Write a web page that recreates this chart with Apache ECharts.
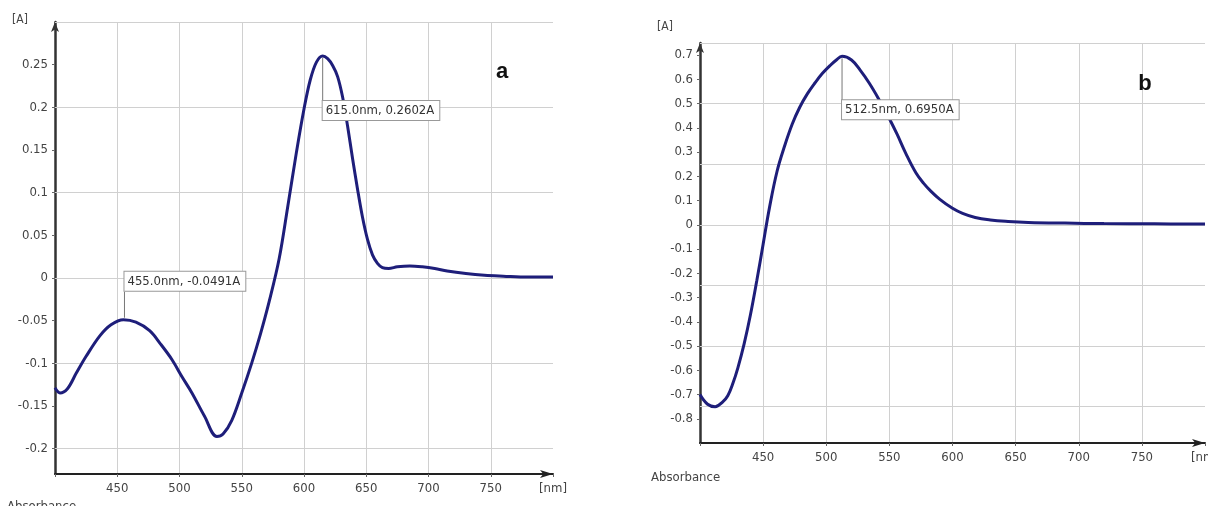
<!DOCTYPE html>
<html>
<head>
<meta charset="utf-8">
<script src="https://cdn.jsdelivr.net/npm/echarts@6/dist/echarts.min.js"></script>
<style>
html,body{margin:0;padding:0;background:#fff;}
#c{width:1208px;height:506px;}
</style>
</head>
<body>
<div id="c"></div>
<script>
// ---- Data ----
var wavelengthA = [400,404,410,417,425,436,445,455,465,476,485,494,502,510,520,530,535,542,550,558,565,572,580,587,594,600,605,610,615,619,623,627,631,635,639,643,647,651,655,659,663,668,675,685,695,705,715,730,745,760,780,800];
var absorbA = [-0.129,-0.135,-0.130,-0.112,-0.092,-0.068,-0.055,-0.0491,-0.052,-0.062,-0.078,-0.096,-0.116,-0.135,-0.162,-0.186,-0.183,-0.167,-0.135,-0.100,-0.066,-0.028,0.022,0.084,0.148,0.198,0.232,0.253,0.2602,0.257,0.249,0.236,0.212,0.178,0.140,0.104,0.071,0.045,0.027,0.017,0.012,0.011,0.013,0.014,0.013,0.011,0.008,0.005,0.003,0.002,0.001,0.001];

var wavelengthB = [400,406,412,418,422,426,430,435,440,445,450,455,461,467,473,479,485,491,497,503,508,512.5,520,527,534,542,549,556,563,571,577,583,590,600,608,618,630,644,660,689,720,760,800];
var absorbB = [-0.70,-0.74,-0.75,-0.73,-0.705,-0.655,-0.59,-0.49,-0.37,-0.23,-0.08,0.07,0.22,0.325,0.415,0.485,0.540,0.585,0.625,0.657,0.680,0.695,0.680,0.637,0.585,0.515,0.448,0.375,0.295,0.215,0.172,0.138,0.105,0.068,0.047,0.030,0.020,0.014,0.010,0.007,0.005,0.004,0.003];

var peaksA = [[455.0, -0.0491], [615.0, 0.2602]];
var peaksB = [[512.5, 0.6950]];

var yLabelsA = [-0.2,-0.15,-0.1,-0.05,0,0.05,0.1,0.15,0.2,0.25];
var yGridA = [-0.2,-0.1,0,0.1,0.2,0.3];
var yLabelsB = [-0.8,-0.7,-0.6,-0.5,-0.4,-0.3,-0.2,-0.1,0,0.1,0.2,0.3,0.4,0.5,0.6,0.7];
var yGridB = [-0.75,-0.5,-0.25,0,0.25,0.5,0.75];

var xUnit = '[nm]';
var yUnit = '[A]';

// ---- Chart ----
var FONT = '"Liberation Sans Narrow","DejaVu Sans Condensed","Liberation Sans",sans-serif';
var LINE = '#1e1e7a';

function pairs(xs, ys){ return xs.map(function(x,i){return [x, ys[i]];}); }

function xAxisCfg(gi){
  return {
    type:'value', gridIndex:gi, min:400, max:800, interval:50,
    axisLine:{show:true, onZero:false, lineStyle:{color:'#222', width:2}, symbol:['none','arrow'], symbolSize:[6,13]},
    axisTick:{show:true, length:3, lineStyle:{color:'#666'}},
    axisLabel:{color:'#444', fontFamily:FONT, fontSize:13, margin:8,
      formatter:function(v){ if(v===400) return ''; if(v===800) return xUnit; return String(v);} },
    splitLine:{show:true, showMinLine:false, showMaxLine:false, lineStyle:{color:'#d0d0d0', width:1}}
  };
}
function yAxisCfg(gi, mn, mx, labels){
  return {
    type:'value', gridIndex:gi, min:mn, max:mx,
    axisLine:{show:true, onZero:false, lineStyle:{color:'#333', width:2.5}, symbol:['none','arrow'], symbolSize:[6,10]},
    axisTick:{show:true, length:3, customValues:labels, lineStyle:{color:'#666'}},
    axisLabel:{color:'#444', fontFamily:FONT, fontSize:13, margin:7, customValues:labels},
    splitLine:{show:false}
  };
}
function gridLines(vals){
  return {
    silent:true, symbol:['none','none'], z:1, animation:false,
    label:{show:false},
    lineStyle:{color:'#d0d0d0', width:1, type:'solid'},
    emphasis:{disabled:true},
    data: vals.map(function(v){return {yAxis:v};})
  };
}

var chart = echarts.init(document.getElementById('c'), null, {renderer:'canvas'});
chart.setOption({
  animation:false,
  backgroundColor:'#fff',
  grid:[
    {left:55, top:22, width:498, height:452, outerBoundsMode:'none', containLabel:false},
    {left:700, top:43, width:505, height:400, outerBoundsMode:'none', containLabel:false}
  ],
  xAxis:[xAxisCfg(0), xAxisCfg(1)],
  yAxis:[yAxisCfg(0,-0.23,0.3,yLabelsA), yAxisCfg(1,-0.9,0.75,yLabelsB)],
  series:[
    {type:'line', xAxisIndex:0, yAxisIndex:0, data:pairs(wavelengthA, absorbA), smooth:0.35,
     showSymbol:false, z:3, lineStyle:{color:LINE, width:3}, markLine:gridLines(yGridA)},
    {type:'line', xAxisIndex:1, yAxisIndex:1, data:pairs(wavelengthB, absorbB), smooth:0.4,
     showSymbol:false, z:3, lineStyle:{color:LINE, width:3}, markLine:gridLines(yGridB)}
  ]
});

function annot(gi, p, dy){
  var px = chart.convertToPixel({gridIndex:gi}, p);
  var txt = p[0].toFixed(1) + 'nm, ' + p[1].toFixed(4) + 'A';
  var boxH = 20;
  var out = [];
  if (dy < 0) {
    var bottom = px[1] + dy;
    out.push({type:'line', z:10, shape:{x1:px[0]+1, y1:px[1]-2, x2:px[0]+1, y2:bottom}, style:{stroke:'#777', lineWidth:1}});
    out.push({type:'text', z:11, x:px[0]+1, y:bottom-boxH, style:{text:txt, fill:'#333', font:'13px '+FONT,
      backgroundColor:'#fff', borderColor:'#999', borderWidth:1, padding:[3,5,3,3]}});
  } else {
    var top = px[1] + dy;
    out.push({type:'line', z:10, shape:{x1:px[0], y1:px[1]+2, x2:px[0], y2:top}, style:{stroke:'#777', lineWidth:1}});
    out.push({type:'text', z:11, x:px[0], y:top, style:{text:txt, fill:'#333', font:'13px '+FONT,
      backgroundColor:'#fff', borderColor:'#999', borderWidth:1, padding:[3,5,3,3]}});
  }
  return out;
}

var g = [];
g = g.concat(annot(0, peaksA[0], -28));
g = g.concat(annot(0, peaksA[1], 45));
g = g.concat(annot(1, peaksB[0], 44));
g.push({type:'text', x:20, y:20, style:{text:yUnit, fill:'#444', font:'12px '+FONT, align:'center', verticalAlign:'middle'}});
g.push({type:'text', x:665, y:27, style:{text:yUnit, fill:'#444', font:'12px '+FONT, align:'center', verticalAlign:'middle'}});
g.push({type:'text', x:651, y:478, style:{text:'Absorbance', fill:'#444', font:'13px '+FONT, align:'left', verticalAlign:'middle'}});
g.push({type:'text', x:7, y:500, style:{text:'Absorbance', fill:'#444', font:'13px '+FONT, align:'left', verticalAlign:'top'}});
g.push({type:'text', x:502, y:72, style:{text:'a', fill:'#111', font:'bold 22px "Liberation Sans",Arial,sans-serif', align:'center', verticalAlign:'middle'}});
g.push({type:'text', x:1145, y:84, style:{text:'b', fill:'#111', font:'bold 22px "Liberation Sans",Arial,sans-serif', align:'center', verticalAlign:'middle'}});
chart.setOption({graphic:g});
</script>
</body>
</html>
